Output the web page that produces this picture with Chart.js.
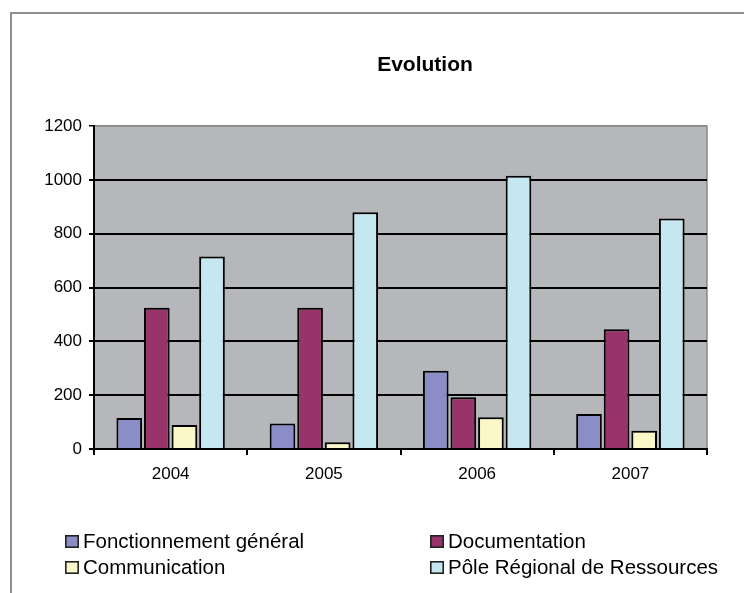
<!DOCTYPE html>
<html><head><meta charset="utf-8">
<script src="https://cdn.jsdelivr.net/npm/chart.js@4.4.0/dist/chart.umd.min.js"></script>
<style>
html,body{margin:0;padding:0;background:#fff;overflow:hidden;width:744px;height:593px;}
#frame{position:absolute;left:10px;top:12px;width:900px;height:800px;border:2px solid #8e8e8e;box-sizing:border-box;}
#c{position:absolute;left:0;top:0;}
</style></head><body>
<div id="frame"></div>
<canvas id="c" width="744" height="593"></canvas>
<script>
const categories = ['2004', '2005', '2006', '2007'];
const seriesNames = ['Fonctionnement général', 'Documentation', 'Communication', 'Pôle Régional de Ressources'];
const fonctionnement = [115, 95, 291, 130];
const documentation = [525, 525, 192, 445];
const communication = [89, 25, 118, 68];
const pole = [715, 880, 1015, 856];
const yMin = 0, yMax = 1200, yStep = 200;
const chartTitle = 'Evolution';
const seriesColors = ['#8b8dc6', '#98346a', '#fbf7c6', '#c5e8f0'];

const seriesValues = [fonctionnement, documentation, communication, pole];
const FONT = "'Liberation Sans', Arial, sans-serif";

const plotBg = {
  id: 'plotBg',
  beforeDraw(chart) {
    const {ctx, chartArea: a} = chart;
    ctx.save();
    ctx.fillStyle = '#b5b7ba';
    ctx.fillRect(a.left, a.top, a.right - a.left, a.bottom - a.top);
    ctx.strokeStyle = '#8a8a8a';
    ctx.lineWidth = 1.5;
    ctx.beginPath();
    ctx.moveTo(a.left, a.top);
    ctx.lineTo(a.right, a.top);
    ctx.lineTo(a.right, a.bottom);
    ctx.stroke();
    ctx.restore();
  }
};

const titleAndLegend = {
  id: 'titleAndLegend',
  afterDraw(chart) {
    const ctx = chart.ctx;
    ctx.save();
    ctx.fillStyle = '#000';
    ctx.font = "bold 21px " + FONT;
    ctx.textAlign = 'center';
    ctx.textBaseline = 'middle';
    ctx.fillText(chartTitle, 425, 65);
    const cols = [65, 430];
    const rows = [541, 567];
    ctx.font = "20.5px " + FONT;
    ctx.textAlign = 'left';
    chart.data.datasets.forEach((ds, i) => {
      const x = cols[i % 2], y = rows[Math.floor(i / 2)];
      ctx.fillStyle = ds.backgroundColor;
      ctx.fillRect(x, y - 6, 14, 13);
      ctx.strokeStyle = '#222';
      ctx.lineWidth = 1.6;
      ctx.strokeRect(x + 0.8, y - 5.2, 12.4, 11.4);
      ctx.fillStyle = '#000';
      ctx.fillText(ds.label, x + 18, y + 1);
    });
    ctx.restore();
  }
};

new Chart(document.getElementById('c'), {
  type: 'bar',
  data: {
    labels: categories,
    datasets: seriesNames.map((name, i) => ({
      label: name,
      data: seriesValues[i],
      backgroundColor: seriesColors[i],
      borderColor: '#000',
      borderWidth: 2,
      categoryPercentage: 0.72,
      barPercentage: 0.93
    }))
  },
  options: {
    responsive: false,
    devicePixelRatio: 1,
    animation: false,
    layout: {padding: {top: 126, right: 37, left: 0, bottom: 0}},
    plugins: {legend: {display: false}, title: {display: false}, tooltip: {enabled: false}},
    scales: {
      x: {
        grid: {display: true, drawOnChartArea: false, drawTicks: true, tickLength: 6, color: '#000', lineWidth: 2, offset: true},
        border: {display: true, color: '#000', width: 2},
        ticks: {color: '#000', font: {family: FONT, size: 17}, padding: 9},
        afterFit(s) { s.height = 144; }
      },
      y: {
        min: yMin, max: yMax,
        ticks: {stepSize: yStep, color: '#000', font: {family: FONT, size: 17}, padding: 7,
                callback: (v) => String(v)},
        grid: {
          color: (c) => (c.tick && c.tick.value === yMax) ? '#8a8a8a' : '#000',
          lineWidth: (c) => (c.tick && c.tick.value === yMax) ? 1.5 : 2,
          tickLength: 5,
          tickColor: '#000'
        },
        border: {display: true, color: '#000', width: 2},
        afterFit(s) { s.width = 94; }
      }
    }
  },
  plugins: [plotBg, titleAndLegend]
});
</script>
</body></html>
